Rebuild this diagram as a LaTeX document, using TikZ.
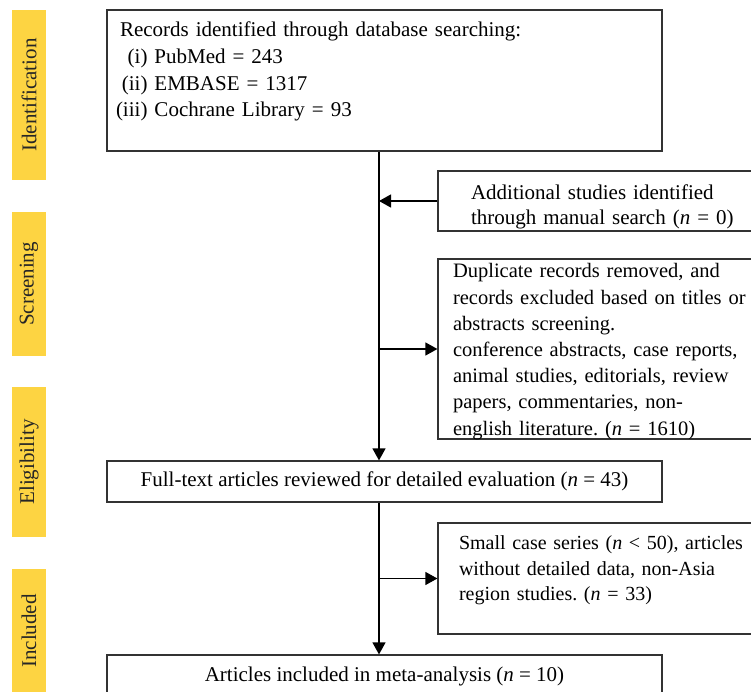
\documentclass[tikz,border=0pt]{standalone}
\usepackage{fontspec}
\setmainfont{Liberation Serif}
\frenchspacing
\usetikzlibrary{arrows.meta}
\definecolor{stagefill}{RGB}{253,212,66}
\begin{document}
\begin{tikzpicture}[x=1pt, y=-1pt, font=\fontsize{21}{26.5}\selectfont]
        \tikzset{stage/.style = {fill=stagefill, text=black!85, rotate=90, minimum height=34, inner sep=0pt}}
        \tikzset{box/.style = {draw=black!80, line width=1.2pt, inner sep=0pt}}
        \tikzset{edge/.style = {->, > = {Triangle[length=12pt, width=13pt]}, line width=1.2pt}}
        \useasboundingbox (0,0) rectangle (751,692);
        \node[stage, minimum width=170] (ident) at (29,95) {Identification};
        \node[stage, minimum width=144] (screen) at (29,284) {Screening};
        \node[stage, minimum width=150] (elig) at (29,462) {Eligibility};
        \node[stage, minimum width=124] (incd) at (29,631) {Included};
        \node[box, minimum width=555, minimum height=141, text width=537, align=left,
              font=\fontsize{21}{26.7}\selectfont] (rec) at (384.5,80.5)
              {\begin{tabular}{@{}r@{ }l@{}}
               \multicolumn{2}{@{\hspace{4pt}}l@{}}{Records identified through database searching:}\\
               (i) & PubMed = 243\\
               (ii) & EMBASE = 1317\\
               (iii) & Cochrane Library = 93\\[18pt]
               \end{tabular}};
        \node[box, minimum width=328, minimum height=60, text width=262, align=left,
              font=\fontsize{21}{25}\selectfont] (add) at (602,201)
              {\begin{tabular}{@{}l@{}}
               Additional studies identified\\
               through manual search (\textit{n} = 0)\\[-13pt]
               \end{tabular}};
        \node[box, minimum width=328, minimum height=180, text width=298, align=left,
              font=\fontsize{20.5}{26.2}\selectfont] (dup) at (602,349)
              {\begin{tabular}{@{}l@{}}
               Duplicate records removed, and\\
               records excluded based on titles or\\
               abstracts screening.\\
               conference abstracts, case reports,\\
               animal studies, editorials, review\\
               papers, commentaries, non-\\
               english literature. (\textit{n} = 1610)\\[-4.5pt]
               \end{tabular}};
        \node[box, minimum width=555, minimum height=41] (full) at (384.5,481.5)
              {Full-text articles reviewed for detailed evaluation (\textit{n} = 43)};
        \node[box, minimum width=328, minimum height=111, text width=286, align=left,
              font=\fontsize{20}{25.5}\selectfont] (small) at (602,578.5)
              {\begin{tabular}{@{}l@{}}
               Small case series (\textit{n} < 50), articles\\
               without detailed data, non-Asia\\
               region studies. (\textit{n} = 33)\\[16.5pt]
               \end{tabular}};
        \node[box, minimum width=555, minimum height=42] (incl) at (384.5,676)
              {Articles included in meta-analysis (\textit{n} = 10)};
        \coordinate (stem) at (379,151);
        \draw[edge] (rec.south -| stem) to (full.north -| stem);
        \draw[edge] (add.west) to (add.west -| stem);
        \draw[edge] (dup.west -| stem) to (dup.west);
        \draw[edge] (full.south -| stem) to (incl.north -| stem);
        \draw[edge] (small.west -| stem) to (small.west);
      \end{tikzpicture}
\end{document}
